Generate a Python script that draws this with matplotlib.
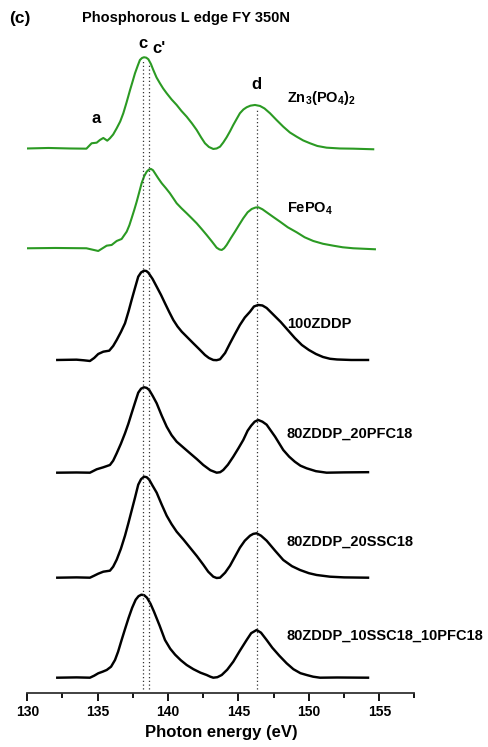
import numpy as np
import matplotlib
matplotlib.use('Agg')
import matplotlib.pyplot as plt
from matplotlib.ticker import MultipleLocator

plt.rcParams.update({
    'font.family': 'Liberation Sans',
    'font.weight': 'bold',
    'mathtext.fontset': 'custom',
    'mathtext.rm': 'Liberation Sans',
    'mathtext.bf': 'Liberation Sans:bold',
})

# ── Spectra (photon energy in eV, normalised FY intensity) ──────────

zn_e = [130.0, 131.5, 133.0, 134.2, 134.57, 134.93, 135.16, 135.4, 135.68, 135.87,
        136.1, 136.35, 136.6, 136.82, 137.05, 137.3, 137.48, 137.65, 137.85, 138.0,
        138.15, 138.29, 138.45, 138.6, 138.78, 138.95, 139.18, 139.42, 139.65, 139.9,
        140.25, 140.61, 140.95, 141.32, 141.7, 142.03, 142.35, 142.62, 142.9, 143.21,
        143.45, 143.69, 143.92, 144.16, 144.4, 144.63, 144.87, 145.1, 145.35, 145.58,
        145.85, 146.17, 146.53, 146.85, 147.24, 147.7, 148.18, 148.65, 149.13, 149.6,
        150.08, 150.6, 151.26, 152.2, 153.15, 154.57]
zn_i = [0.0, 0.005, 0.0, -0.002, 0.052, 0.058, 0.085, 0.105, 0.078, 0.102,
        0.14, 0.202, 0.27, 0.352, 0.46, 0.585, 0.67, 0.752, 0.83, 0.885,
        0.905, 0.912, 0.908, 0.892, 0.845, 0.785, 0.71, 0.652, 0.60, 0.552,
        0.49, 0.435, 0.375, 0.318, 0.25, 0.185, 0.11, 0.052, 0.015, -0.005,
        0.0, 0.018, 0.06, 0.112, 0.172, 0.235, 0.295, 0.352, 0.39, 0.412,
        0.428, 0.435, 0.425, 0.40, 0.352, 0.285, 0.218, 0.16, 0.118, 0.08,
        0.052, 0.025, 0.008, 0.0, -0.002, -0.008]

fe_e = [130.0, 132.0, 134.2, 135.04, 135.64, 135.99, 136.35, 136.7, 137.06, 137.25,
        137.41, 137.6, 137.77, 137.95, 138.12, 138.3, 138.48, 138.65, 138.79, 138.93,
        139.07, 139.3, 139.55, 139.85, 140.13, 140.37, 140.61, 140.95, 141.32, 141.68,
        142.03, 142.4, 142.74, 143.1, 143.45, 143.65, 143.81, 143.98, 144.16, 144.45,
        144.75, 145.05, 145.34, 145.65, 145.94, 146.2, 146.41, 146.7, 147.0, 147.45,
        147.95, 148.5, 149.13, 149.7, 150.31, 151.0, 151.73, 152.4, 153.15, 154.69]
fe_i = [0.0, 0.003, 0.0, -0.027, 0.026, 0.033, 0.073, 0.093, 0.166, 0.23,
        0.30, 0.385, 0.466, 0.56, 0.65, 0.72, 0.766, 0.788, 0.793, 0.78,
        0.75, 0.70, 0.65, 0.60, 0.55, 0.50, 0.45, 0.40, 0.35, 0.30,
        0.25, 0.19, 0.133, 0.07, 0.006, -0.012, -0.017, 0.0, 0.033, 0.10,
        0.166, 0.235, 0.30, 0.36, 0.393, 0.407, 0.41, 0.39, 0.36, 0.315,
        0.266, 0.21, 0.16, 0.11, 0.073, 0.045, 0.026, 0.01, 0.0, -0.01]

zddp_e = [132.13, 133.0, 133.5, 134.0, 134.45, 134.75, 135.04, 135.4, 135.82, 136.1,
          136.35, 136.65, 136.94, 137.2, 137.41, 137.65, 137.88, 138.08, 138.29, 138.45,
          138.6, 138.9, 139.19, 139.5, 139.78, 140.08, 140.37, 140.67, 140.97, 141.38,
          141.79, 142.2, 142.62, 142.9, 143.21, 143.45, 143.69, 144.05, 144.4, 144.75,
          145.1, 145.45, 145.82, 146.1, 146.4, 146.7, 147.0, 147.5, 148.0, 148.5,
          149.0, 149.5, 150.0, 150.5, 151.0, 151.5, 152.0, 153.0, 154.2]
zddp_i = [0.0, 0.002, 0.003, -0.003, -0.01, 0.02, 0.06, 0.083, 0.093, 0.14,
          0.20, 0.28, 0.367, 0.49, 0.60, 0.72, 0.833, 0.875, 0.893, 0.89,
          0.873, 0.81, 0.733, 0.65, 0.567, 0.48, 0.40, 0.335, 0.283, 0.225,
          0.167, 0.11, 0.05, 0.02, 0.0, -0.002, 0.007, 0.07, 0.167, 0.26,
          0.35, 0.425, 0.483, 0.535, 0.55, 0.545, 0.52, 0.45, 0.38, 0.30,
          0.22, 0.15, 0.10, 0.06, 0.03, 0.012, 0.005, 0.0, 0.0]

pfc_e = [132.13, 133.5, 134.45, 134.93, 135.4, 135.87, 136.1, 136.35, 136.65, 136.94,
         137.18, 137.41, 137.65, 137.88, 138.08, 138.29, 138.48, 138.66, 138.9, 139.19,
         139.55, 139.9, 140.25, 140.61, 141.1, 141.56, 142.05, 142.5, 143.0, 143.45,
         143.7, 143.92, 144.25, 144.63, 145.0, 145.34, 145.65, 145.9, 146.15, 146.4,
         146.7, 147.0, 147.6, 148.18, 148.6, 149.0, 149.4, 149.84, 150.5, 151.26,
         152.5, 154.2]
pfc_i = [0.0, 0.002, 0.0, 0.034, 0.054, 0.077, 0.12, 0.194, 0.29, 0.394,
         0.49, 0.594, 0.70, 0.80, 0.84, 0.854, 0.848, 0.827, 0.77, 0.694,
         0.57, 0.46, 0.375, 0.31, 0.25, 0.194, 0.135, 0.077, 0.025, 0.0,
         0.005, 0.027, 0.08, 0.16, 0.245, 0.327, 0.42, 0.47, 0.51, 0.527,
         0.51, 0.48, 0.36, 0.227, 0.16, 0.11, 0.07, 0.044, 0.015, 0.0,
         0.003, 0.005]

ssc_e = [132.13, 133.5, 134.45, 134.75, 135.04, 135.4, 135.87, 136.1, 136.35, 136.65,
         136.94, 137.18, 137.41, 137.65, 137.88, 138.08, 138.29, 138.48, 138.66, 138.9,
         139.19, 139.55, 139.9, 140.25, 140.61, 141.1, 141.56, 142.05, 142.5, 142.85,
         143.21, 143.45, 143.69, 144.05, 144.4, 144.75, 145.1, 145.45, 145.82, 146.05,
         146.29, 146.6, 147.0, 147.6, 148.18, 148.8, 149.37, 150.0, 150.55, 151.5,
         152.5, 154.2]
ssc_i = [0.0, 0.003, 0.0, 0.02, 0.04, 0.06, 0.07, 0.11, 0.18, 0.29,
         0.42, 0.545, 0.67, 0.80, 0.93, 0.985, 1.01, 1.005, 0.98, 0.92,
         0.85, 0.73, 0.62, 0.535, 0.46, 0.38, 0.30, 0.215, 0.13, 0.06,
         0.01, -0.003, 0.0, 0.05, 0.12, 0.21, 0.30, 0.37, 0.42, 0.438,
         0.444, 0.42, 0.37, 0.27, 0.177, 0.115, 0.077, 0.045, 0.027, 0.01,
         0.003, 0.0]

mix_e = [132.13, 133.5, 134.45, 134.75, 135.04, 135.35, 135.64, 135.95, 136.23, 136.45,
         136.7, 136.95, 137.2, 137.45, 137.7, 137.9, 138.1, 138.3, 138.5, 138.75,
         139.0, 139.4, 139.78, 140.15, 140.5, 140.9, 141.32, 141.8, 142.3, 142.74,
         143.0, 143.21, 143.5, 143.81, 144.2, 144.63, 145.1, 145.58, 145.9, 146.29,
         146.6, 147.0, 147.4, 147.9, 148.42, 148.9, 149.4, 149.84, 150.3, 150.79,
         152.0, 154.2]
mix_i = [0.0, 0.003, 0.0, 0.02, 0.044, 0.06, 0.077, 0.11, 0.177, 0.26,
         0.377, 0.49, 0.60, 0.70, 0.78, 0.815, 0.83, 0.825, 0.80, 0.74,
         0.66, 0.52, 0.377, 0.29, 0.23, 0.175, 0.127, 0.085, 0.05, 0.027,
         0.01, 0.0, 0.005, 0.027, 0.08, 0.16, 0.27, 0.377, 0.445, 0.477,
         0.45, 0.377, 0.30, 0.22, 0.144, 0.085, 0.045, 0.027, 0.01, 0.0,
         0.002, 0.0]

spectra = [(zn_e, zn_i), (fe_e, fe_i), (zddp_e, zddp_i),
           (pfc_e, pfc_i), (ssc_e, ssc_i), (mix_e, mix_i)]
offsets = [5.445, 4.447, 3.33, 2.203, 1.153, 0.153]
names = [r'Zn$_3$(PO$_4$)$_2$', r'FePO$_4$', '100ZDDP',
         '80ZDDP_20PFC18', '80ZDDP_20SSC18', '80ZDDP_10SSC18_10PFC18']
name_y = [5.947, 4.847, 3.69, 2.59, 1.513, 0.57]
colors = ['#2b9a23', '#2b9a23', 'black', 'black', 'black', 'black']
widths = [1.5, 1.5, 1.75, 1.75, 1.75, 1.75]

# peak markers: energy, top of dotted line, letter position
peak_e = [138.24, 138.66, 146.33]
peak_top = [6.337, 6.303, 5.847]
letters = ['c', "c'", 'd', 'a']
letter_xy = [(138.2, 6.497), (139.38, 6.447), (146.29, 6.08), (134.88, 5.747)]

# ── Figure ─────────────────────────────────────────────────────────

fig = plt.figure(figsize=(4.89, 7.47), dpi=100)
ax = fig.add_axes([0.0558, 0.0723, 0.7918, 0.8742])

for (e, i), off, c, lw in zip(spectra, offsets, colors, widths):
    ax.plot(e, np.array(i) + off, color=c, linewidth=lw, solid_joinstyle='round')

for x, top in zip(peak_e, peak_top):
    ax.plot([x, x], [0.04, top], color='#333333', linestyle=(0, (1, 2)), linewidth=0.9)

for name, y in zip(names, name_y):
    ax.text(148.43, y, name, fontsize=10.5, fontweight='bold', va='center', ha='left')

for t, (x, y) in zip(letters, letter_xy):
    ax.text(x, y, t, fontsize=12, fontweight='bold', ha='center', va='center')

ax.set_xlim(130, 157.5)
ax.set_ylim(0, 6.53)
ax.xaxis.set_major_locator(MultipleLocator(5))
ax.xaxis.set_minor_locator(MultipleLocator(2.5))
ax.tick_params(axis='x', which='major', length=6, width=1.3, labelsize=10, pad=3)
ax.tick_params(axis='x', which='minor', length=3.5, width=1.3)
for lab in ax.get_xticklabels():
    lab.set_fontweight('bold')
ax.set_yticks([])
for side in ['left', 'right', 'top']:
    ax.spines[side].set_visible(False)
ax.spines['bottom'].set_linewidth(1.3)
ax.spines['bottom'].set_color('#333333')
ax.set_xlabel('Photon energy (eV)', fontsize=12, fontweight='bold', labelpad=4)

fig.text(20 / 489, 1 - 18 / 747, '(c)', fontsize=12.5, fontweight='bold', ha='center', va='center')
fig.text(186 / 489, 1 - 18 / 747, 'Phosphorous L edge FY 350N', fontsize=10.5,
         fontweight='bold', ha='center', va='center')

fig.savefig('out.png', dpi=100)
